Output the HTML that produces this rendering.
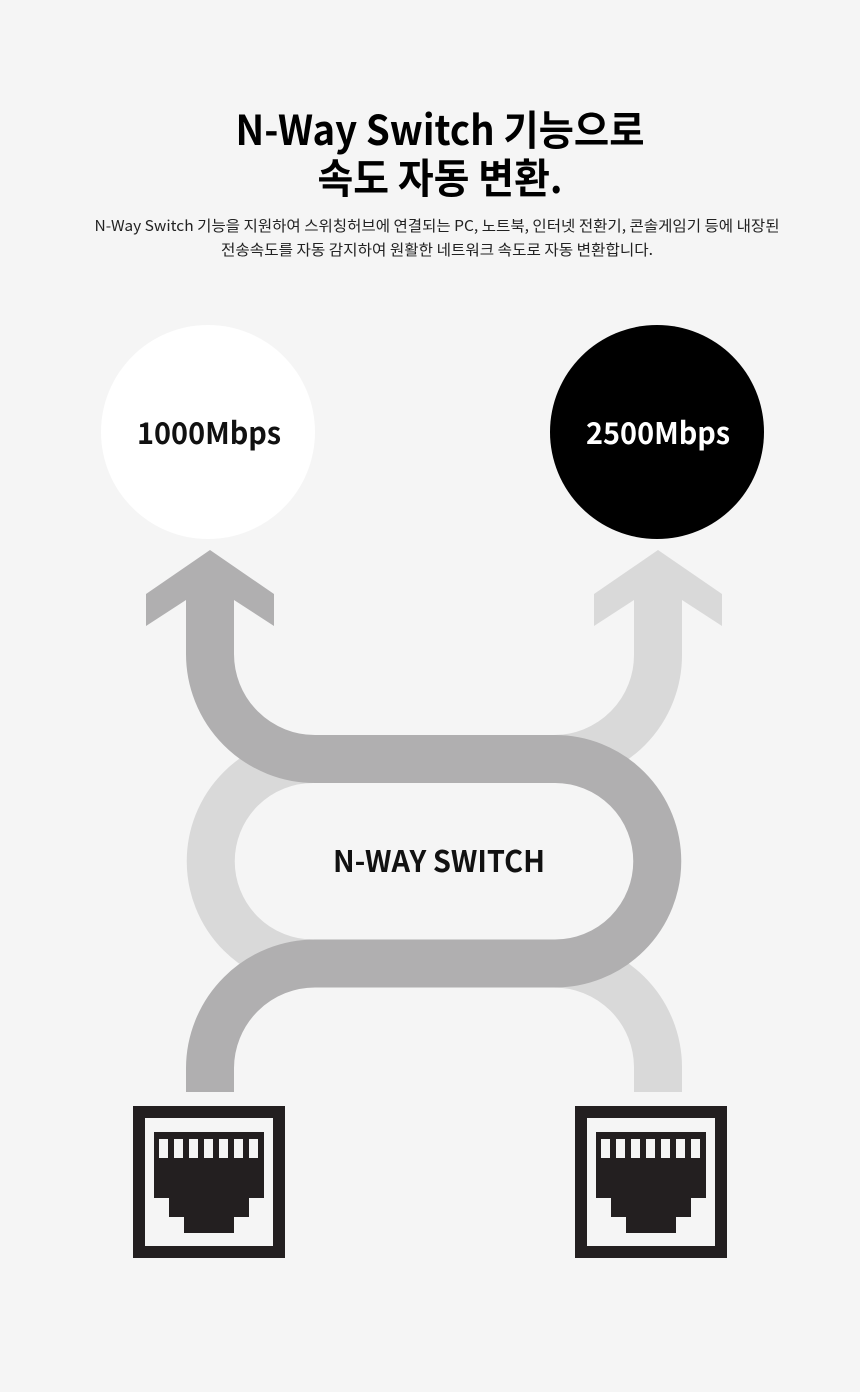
<!DOCTYPE html>
<html><head><meta charset="utf-8"><style>
html,body{margin:0;padding:0;background:#f5f5f5;}
svg{display:block;}
</style></head><body>
<svg width="860" height="1392" viewBox="0 0 860 1392" xmlns="http://www.w3.org/2000/svg">
<rect width="860" height="1392" fill="#f5f5f5"/>
<g font-family="'Noto Sans CJK KR', sans-serif" fill="#000" text-anchor="middle">
<text x="440" y="145" font-size="41" font-weight="bold" textLength="409" lengthAdjust="spacingAndGlyphs">N-Way Switch 기능으로</text>
<text x="440" y="193" font-size="41" font-weight="bold" textLength="245" lengthAdjust="spacingAndGlyphs">속도 자동 변환.</text>
<text x="437" y="231" font-size="15" fill="#222" textLength="685" lengthAdjust="spacingAndGlyphs">N-Way Switch 기능을 지원하여 스위칭허브에 연결되는 PC, 노트북, 인터넷 전환기, 콘솔게임기 등에 내장된</text>
<text x="437" y="255" font-size="15" fill="#222" textLength="432" lengthAdjust="spacingAndGlyphs">전송속도를 자동 감지하여 원활한 네트워크 속도로 자동 변환합니다.</text>
</g>
<circle cx="208" cy="432" r="107" fill="#ffffff"/>
<circle cx="657" cy="432" r="107" fill="#000000"/>
<text x="209" y="444" font-family="'Noto Sans CJK KR', sans-serif" font-size="30" font-weight="bold" text-anchor="middle" fill="#111" textLength="144" lengthAdjust="spacingAndGlyphs">1000Mbps</text>
<text x="658" y="444" font-family="'Noto Sans CJK KR', sans-serif" font-size="30" font-weight="bold" text-anchor="middle" fill="#fff" textLength="144" lengthAdjust="spacingAndGlyphs">2500Mbps</text>
<!-- light path -->
<g fill="none" stroke="#d9d9d9" stroke-width="48">
<path d="M658 600 L658 654 A104 104 0 0 1 554 759"/>
<path d="M313 759 A102.25 102.25 0 0 0 313 963.5"/>
<path d="M554 963.5 A104 104 0 0 1 658 1067 L658 1092"/>
</g>
<polygon points="658,550 722,594 722,626 682,600 634,600 594,626 594,594" fill="#d9d9d9"/>
<!-- dark path -->
<path d="M210 600 L210 654 A105 105 0 0 0 315 759 L555 759 A102.25 102.25 0 0 1 555 963.5 L315 963.5 A105 105 0 0 0 210 1068 L210 1092" fill="none" stroke="#b0afb0" stroke-width="48"/>
<polygon points="210,550 274,594 274,626 234,600 186,600 146,626 146,594" fill="#b0afb0"/>
<text x="439" y="872" font-family="'Noto Sans CJK KR', sans-serif" font-size="30" font-weight="bold" text-anchor="middle" fill="#111" textLength="212" lengthAdjust="spacingAndGlyphs">N-WAY SWITCH</text>
<!-- ethernet icons -->
<g id="eth">
<rect x="139" y="1112" width="140" height="140" fill="#f5f5f5" stroke="#231f20" stroke-width="12"/>
<path d="M154 1132 H264 V1198 H249 V1217 H234 V1233 H184 V1217 H169 V1198 H154 Z" fill="#231f20"/>
<g fill="#f5f5f5">
<rect x="159" y="1139" width="9" height="19"/>
<rect x="174" y="1139" width="9" height="19"/>
<rect x="189" y="1139" width="9" height="19"/>
<rect x="204" y="1139" width="9" height="19"/>
<rect x="219" y="1139" width="9" height="19"/>
<rect x="234" y="1139" width="9" height="19"/>
<rect x="249" y="1139" width="9" height="19"/>
</g>
</g>
<use href="#eth" x="442" y="0"/>
</svg>
</body></html>
